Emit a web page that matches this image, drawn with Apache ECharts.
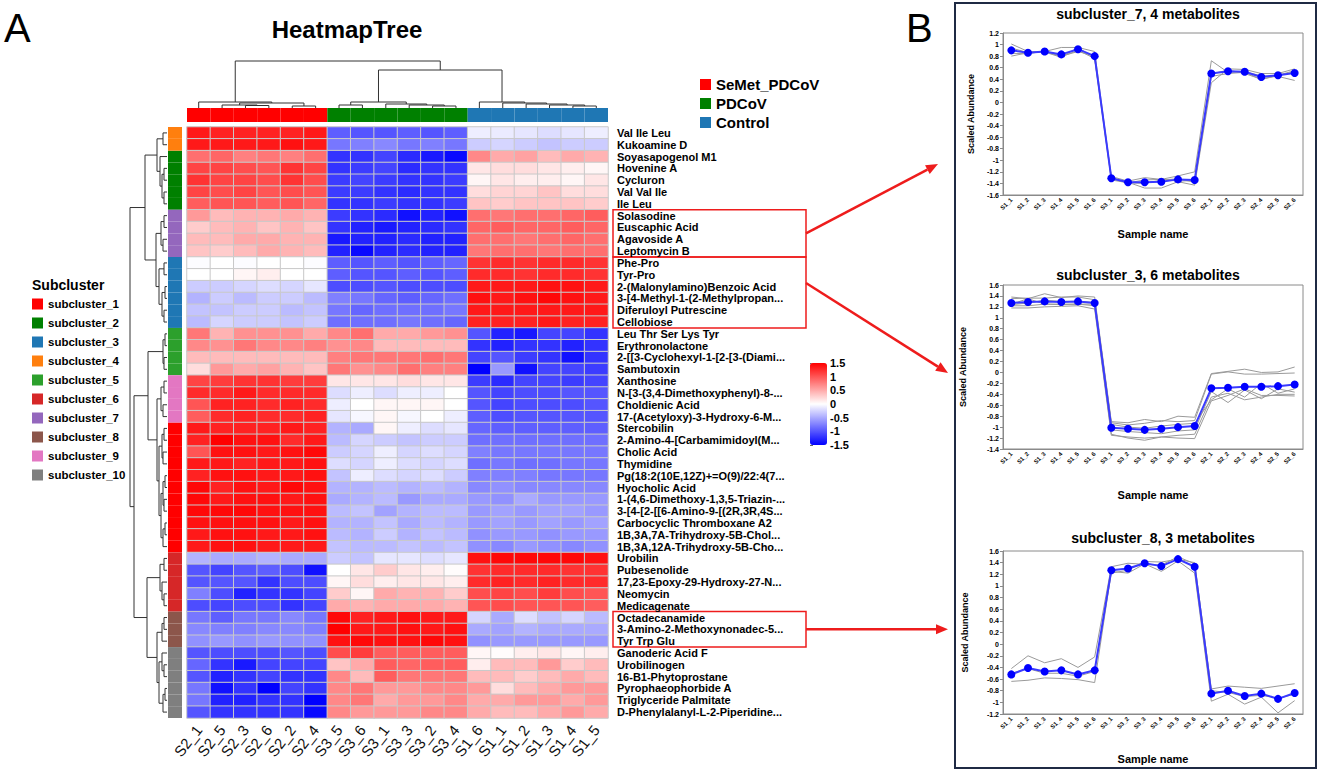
<!DOCTYPE html>
<html><head><meta charset="utf-8">
<script src="https://cdn.jsdelivr.net/npm/echarts@6/dist/echarts.min.js"></script>
<style>html,body{margin:0;padding:0;background:#fff}#c{width:1325px;height:772px}</style>
</head><body><div id="c"></div>
<script>
const FONT = '"Liberation Sans", Arial, Helvetica, sans-serif';

// ---------- heatmap data ----------
const columns = ['S2_1','S2_5','S2_3','S2_6','S2_2','S2_4','S3_5','S3_6','S3_1','S3_3','S3_2','S3_4','S1_6','S1_1','S1_2','S1_3','S1_4','S1_5'];
const groups = ['SeMet_PDCoV','PDCoV','Control'];
const groupColors = ['#ff0000','#008000','#1f77b4'];
const columnGroup = [0,0,0,0,0,0,1,1,1,1,1,1,2,2,2,2,2,2];

const rowNames = ['Val Ile Leu','Kukoamine D','Soyasapogenol M1','Hovenine A','Cycluron','Val Val Ile','Ile Leu',
 'Solasodine','Euscaphic Acid','Agavoside A','Leptomycin B',
 'Phe-Pro','Tyr-Pro','2-(Malonylamino)Benzoic Acid','3-[4-Methyl-1-(2-Methylpropan...','Diferuloyl Putrescine','Cellobiose',
 'Leu Thr Ser Lys Tyr','Erythronolactone','2-[[3-Cyclohexyl-1-[2-[3-(Diami...','Sambutoxin',
 'Xanthosine','N-[3-(3,4-Dimethoxyphenyl)-8-...','Choldienic Acid','17-(Acetyloxy)-3-Hydroxy-6-M...',
 'Stercobilin','2-Amino-4-[Carbamimidoyl(M...','Cholic Acid','Thymidine','Pg(18:2(10E,12Z)+=O(9)/22:4(7...','Hyocholic Acid',
 '1-(4,6-Dimethoxy-1,3,5-Triazin-...','3-[4-[2-[[6-Amino-9-[(2R,3R,4S...','Carbocyclic Thromboxane A2','1B,3A,7A-Trihydroxy-5B-Chol...','1B,3A,12A-Trihydroxy-5B-Cho...',
 'Urobilin','Pubesenolide','17,23-Epoxy-29-Hydroxy-27-N...','Neomycin','Medicagenate',
 'Octadecanamide','3-Amino-2-Methoxynonadec-5...','Tyr Trp Glu',
 'Ganoderic Acid F','Urobilinogen','16-B1-Phytoprostane','Pyrophaeophorbide A','Triglyceride Palmitate','D-Phenylalanyl-L-2-Piperidine...'];

const subclusterNames = ['subcluster_1','subcluster_2','subcluster_3','subcluster_4','subcluster_5','subcluster_6','subcluster_7','subcluster_8','subcluster_9','subcluster_10'];
const subclusterColors = ['#ff0000','#008000','#1f77b4','#ff7f0e','#2ca02c','#d62728','#9467bd','#8c564b','#e377c2','#7f7f7f'];
const rowSubcluster = [4,4,2,2,2,2,2,7,7,7,7,3,3,3,3,3,3,5,5,5,5,9,9,9,9,1,1,1,1,1,1,1,1,1,1,1,6,6,6,6,6,8,8,8,10,10,10,10,10,10];

const heatValues = [
 [1.35,1.3,1.3,1.3,1.3,1.35, -0.95,-1.0,-1.0,-0.95,-1.0,-0.95, -0.1,-0.12,-0.15,-0.2,-0.15,-0.1],
 [1.35,1.35,1.35,1.35,1.4,1.35, -0.8,-0.75,-0.7,-0.8,-0.75,-0.8, -0.3,-0.25,-0.3,-0.35,-0.3,-0.3],
 [0.85,0.9,0.75,0.8,0.75,0.85, -1.2,-1.2,-1.1,-1.25,-1.35,-1.45, 0.7,0.5,0.55,0.4,0.5,0.45],
 [1.1,1.1,1.05,1.0,1.2,1.1, -1.2,-1.15,-1.1,-1.25,-1.2,-1.2, 0.15,0.2,0.2,0.15,0.1,0.05],
 [1.2,1.1,1.1,1.05,1.2,1.05, -1.15,-1.1,-1.15,-1.2,-1.2,-1.15, 0.05,0.15,0.1,0.1,0.05,0.15],
 [1.1,1.05,1.1,1.0,1.05,1.0, -1.15,-1.15,-1.2,-1.25,-1.2,-1.2, 0.2,0.25,0.25,0.35,0.2,0.2],
 [0.95,1.0,1.0,0.95,1.0,0.9, -1.2,-1.2,-1.15,-1.2,-1.2,-1.15, 0.35,0.3,0.35,0.35,0.35,0.3],
 [0.6,0.4,0.45,0.45,0.5,0.45, -1.15,-1.2,-1.25,-1.4,-1.3,-1.4, 0.85,0.8,0.85,0.85,0.9,0.95],
 [0.3,0.4,0.45,0.35,0.45,0.35, -1.2,-1.3,-1.35,-1.3,-1.25,-1.2, 0.9,0.95,0.9,0.9,0.95,0.9],
 [0.4,0.4,0.5,0.5,0.45,0.45, -1.35,-1.3,-1.3,-1.25,-1.3,-1.3, 0.85,0.85,0.8,0.85,0.9,0.85],
 [0.35,0.3,0.4,0.5,0.45,0.4, -1.3,-1.45,-1.3,-1.25,-1.3,-1.3, 0.8,0.85,0.85,0.8,0.85,0.85],
 [-0.02,0.0,-0.02,0.0,0.0,-0.02, -0.95,-1.0,-0.95,-1.0,-0.95,-0.9, 1.2,1.25,1.2,1.25,1.25,1.2],
 [0.0,0.0,0.05,0.1,0.0,0.0, -0.95,-1.0,-1.0,-0.95,-1.0,-0.95, 1.25,1.25,1.2,1.25,1.25,1.2],
 [-0.3,-0.3,-0.25,-0.2,-0.25,-0.15, -1.05,-1.05,-1.0,-1.05,-1.05,-1.05, 1.35,1.35,1.35,1.4,1.4,1.35],
 [-0.45,-0.3,-0.4,-0.3,-0.3,-0.4, -0.75,-0.8,-0.9,-0.95,-0.9,-0.85, 1.4,1.35,1.4,1.45,1.4,1.35],
 [-0.35,-0.35,-0.3,-0.3,-0.4,-0.35, -0.8,-0.9,-0.85,-0.85,-0.85,-0.8, 1.35,1.35,1.35,1.35,1.35,1.35],
 [-0.4,-0.25,-0.3,-0.3,-0.35,-0.3, -0.85,-0.85,-0.85,-0.8,-0.85,-0.9, 1.3,1.3,1.3,1.35,1.3,1.3],
 [0.8,0.45,0.65,0.65,0.65,0.5, 0.7,0.85,0.5,0.5,0.6,0.65, -1.0,-1.3,-1.35,-1.1,-1.1,-1.2],
 [0.7,0.65,0.8,0.7,0.7,0.75, 0.65,0.7,0.4,0.4,0.4,0.4, -1.2,-1.3,-1.2,-1.2,-1.3,-1.2],
 [0.4,0.4,0.4,0.4,0.4,0.4, 0.75,0.8,0.8,0.8,0.85,0.8, -1.1,-1.0,-1.15,-1.2,-1.4,-1.2],
 [0.2,0.6,0.5,0.55,0.45,0.35, 0.8,0.65,0.7,0.85,0.75,0.75, -1.5,-0.6,-1.4,-1.1,-1.1,-1.15],
 [1.1,1.15,1.2,1.2,1.15,1.15, 0.15,0.15,0.15,0.2,0.15,0.15, -1.15,-1.25,-1.1,-1.1,-1.15,-1.1],
 [1.25,1.25,1.35,1.25,1.25,1.25, -0.2,-0.1,-0.2,-0.1,-0.1,0.0, -1.0,-1.1,-1.05,-1.05,-1.0,-1.0],
 [1.0,1.3,1.3,1.25,1.3,1.25, -0.1,0.0,0.05,0.05,0.05,0.0, -1.0,-1.1,-1.05,-1.05,-1.05,-1.0],
 [0.95,1.25,1.3,1.25,1.25,1.3, -0.15,-0.05,0.05,-0.05,0.0,-0.1, -0.95,-1.05,-1.0,-1.0,-1.0,-1.0],
 [1.35,1.3,1.3,1.3,1.35,1.3, -0.45,-0.5,0.05,-0.1,-0.2,-0.15, -0.9,-0.95,-0.95,-0.95,-0.95,-0.95],
 [1.3,1.5,1.4,1.4,1.25,1.35, -0.4,-0.25,-0.3,-0.35,-0.3,-0.3, -0.85,-0.85,-0.85,-0.85,-0.85,-0.85],
 [1.0,1.4,1.4,1.35,1.4,1.45, -0.3,-0.25,-0.1,-0.25,-0.2,-0.25, -0.75,-0.8,-0.8,-0.8,-0.8,-0.8],
 [1.35,1.35,1.3,1.35,1.35,1.4, -0.2,-0.25,-0.1,-0.2,-0.25,-0.2, -0.85,-0.8,-0.85,-0.85,-0.8,-0.8],
 [1.3,1.4,1.4,1.35,1.35,1.4, -0.35,-0.1,-0.2,-0.25,-0.2,-0.3, -0.75,-0.75,-0.75,-0.8,-0.8,-0.8],
 [1.45,1.3,1.4,1.35,1.45,1.4, -0.45,-0.45,-0.4,-0.45,-0.4,-0.45, -0.7,-0.65,-0.7,-0.7,-0.7,-0.7],
 [1.45,1.35,1.4,1.4,1.35,1.4, -0.5,-0.45,-0.4,-0.6,-0.5,-0.5, -0.6,-0.65,-0.5,-0.6,-0.6,-0.6],
 [1.45,1.45,1.45,1.4,1.4,1.4, -0.4,-0.35,-0.55,-0.45,-0.4,-0.4, -0.6,-0.55,-0.6,-0.55,-0.55,-0.6],
 [1.4,1.4,1.4,1.4,1.35,1.4, -0.45,-0.45,-0.35,-0.5,-0.4,-0.45, -0.6,-0.55,-0.6,-0.55,-0.6,-0.55],
 [1.35,1.4,1.4,1.35,1.35,1.4, -0.4,-0.45,-0.3,-0.45,-0.35,-0.4, -0.65,-0.6,-0.6,-0.65,-0.6,-0.6],
 [1.35,1.4,1.4,1.35,1.35,1.35, -0.35,-0.4,-0.4,-0.35,-0.4,-0.35, -0.65,-0.7,-0.6,-0.65,-0.7,-0.65],
 [-0.45,-0.5,-0.5,-0.45,-0.5,-0.5, -0.3,-0.35,-0.15,-0.15,-0.2,-0.15, 1.4,1.45,1.45,1.45,1.45,1.4],
 [-1.0,-1.1,-1.0,-0.95,-1.05,-1.4, 0.0,0.15,0.3,0.15,0.1,0.02, 1.2,1.25,1.25,1.25,1.2,1.2],
 [-1.0,-1.0,-1.0,-1.2,-1.05,-1.05, 0.05,0.2,0.1,0.15,0.15,0.1, 1.25,1.3,1.25,1.3,1.25,1.25],
 [-0.75,-1.05,-1.3,-1.2,-1.2,-1.1, 0.3,0.05,0.5,0.45,0.45,0.3, 1.05,1.1,1.05,1.15,1.05,1.0],
 [-1.05,-1.1,-1.05,-1.05,-1.2,-1.1, 0.5,0.45,0.5,0.5,0.5,0.45, 1.0,1.05,1.0,1.0,1.0,0.95],
 [-0.8,-0.95,-0.8,-0.8,-0.7,-0.8, 1.45,1.3,1.35,1.4,1.35,1.35, -0.25,-0.5,-0.2,-0.35,-0.25,-0.4],
 [-0.7,-0.75,-0.75,-0.7,-0.7,-0.75, 1.5,1.35,1.35,1.4,1.35,1.4, -0.5,-0.55,-0.45,-0.5,-0.5,-0.5],
 [-0.65,-0.6,-0.65,-0.6,-0.65,-0.65, 1.4,1.45,1.4,1.4,1.45,1.4, -0.65,-0.6,-0.6,-0.6,-0.6,-0.6],
 [-1.0,-1.05,-1.05,-1.05,-1.0,-1.05, 1.05,1.15,0.95,0.95,0.95,0.95, 0.05,0.02,0.1,0.15,0.05,0.1],
 [-0.9,-1.2,-1.35,-1.1,-1.1,-1.1, 0.35,0.5,0.95,0.9,0.95,0.95, 0.1,0.4,0.4,0.6,0.3,0.4],
 [-1.0,-1.3,-1.2,-1.1,-1.2,-1.2, 0.7,0.4,0.95,0.8,0.8,0.8, 0.4,0.4,0.3,0.4,0.5,0.4],
 [-0.8,-1.4,-1.2,-1.5,-1.1,-1.2, 0.7,0.8,0.6,0.6,0.7,0.7, 0.6,0.2,0.4,0.5,0.6,0.6],
 [-0.8,-1.3,-1.3,-1.2,-1.2,-1.55, 0.7,0.8,0.5,0.6,0.6,0.7, 0.5,0.5,0.6,0.6,0.5,0.6],
 [-1.0,-1.2,-1.2,-1.2,-1.2,-1.45, 0.7,0.6,0.6,0.6,0.7,0.7, 0.5,0.4,0.4,0.5,0.6,0.5]
];
const colorbarTicks = [-1.5, 1.5, 0.5];

// dendrograms: [height, left, right]; leaves are display indices
const rowTree = [37,
  [22,
    [10, [4, 0, 1], [7, 2, [5, [3, 3, 4], [3, 5, 6]]]],
    [11, [6, [3, 7, 8], [4, 9, 10]], [8, [3, 11, 12], [5, [2, 13, 14], [3, 15, 16]]]]
  ],
  [33,
    [19,
      [4, [2, 17, 18], [3, 19, 20]],
      [10, [6, [3, 21, 22], [4, 23, 24]],
           [8, [5, [3, 25, 26], [4, 27, 28]], [6, [4, [2, 29, 30], [3, 31, 32]], [4, [2, 33, 34], 35]]]]
    ],
    [20,
      [7, [3, 36, 37], [5, 38, [3, 39, 40]]],
      [10, [5, [3, 41, 42], 43], [8, [5, 44, [3, 45, 46]], [4, [2, 47, 48], 49]]]
    ]
  ]
];
const colTree = [47,
  [6, 0, [5, [3, 1, [2.5, 2, 3]], [2, 4, 5]]],
  [38,
    [6, [3, 6, 7], [4, 8, [3, 9, [2, 10, 11]]]],
    [6, 12, [5, 13, [4, 14, [3, 15, [2, 16, 17]]]]]
  ]
];

// ---------- line chart data ----------
const sampleNames = ['S1_1','S1_2','S1_3','S1_4','S1_5','S1_6','S3_1','S3_2','S3_3','S3_4','S3_5','S3_6','S2_1','S2_2','S2_3','S2_4','S2_5','S2_6'];

const sub7Title = 'subcluster_7, 4 metabolites';
const sub7Mean = [0.9,0.86,0.88,0.83,0.92,0.8, -1.31,-1.38,-1.38,-1.37,-1.33,-1.34, 0.5,0.54,0.53,0.44,0.47,0.51];
const sub7Lines = [
 [1.01,0.88,0.87,0.78,0.95,0.76, -1.28,-1.36,-1.30,-1.33,-1.27,-1.20, 0.72,0.52,0.53,0.46,0.45,0.38],
 [0.80,0.86,0.88,0.95,0.95,0.88, -1.30,-1.38,-1.48,-1.48,-1.37,-1.43, 0.34,0.58,0.57,0.50,0.50,0.58],
 [0.85,0.84,0.89,0.80,0.88,0.80, -1.32,-1.39,-1.40,-1.34,-1.32,-1.38, 0.45,0.50,0.52,0.40,0.47,0.55],
 [0.94,0.86,0.88,0.79,0.90,0.76, -1.34,-1.39,-1.34,-1.33,-1.36,-1.35, 0.49,0.56,0.50,0.40,0.46,0.53]
];
const sub3Title = 'subcluster_3, 6 metabolites';
const sub3Mean = [1.27,1.29,1.30,1.29,1.30,1.27, -1.01,-1.03,-1.05,-1.03,-1.00,-0.98, -0.29,-0.28,-0.26,-0.26,-0.25,-0.22];
const sub3Lines = [
 [1.38,1.35,1.44,1.37,1.40,1.38, -0.90,-0.92,-0.86,-0.90,-0.80,-0.82, -0.02,0.02,0.06,0.0,0.01,0.10],
 [1.35,1.36,1.36,1.38,1.38,1.33, -0.92,-0.96,-0.93,-0.88,-0.90,-0.88, -0.03,0.01,-0.03,-0.03,-0.02,-0.01],
 [1.24,1.27,1.32,1.30,1.30,1.28, -0.95,-1.00,-1.02,-0.98,-0.95,-0.93, -0.50,-0.30,-0.45,-0.20,-0.38,-0.30],
 [1.22,1.22,1.25,1.24,1.25,1.22, -1.05,-1.08,-1.10,-1.12,-1.07,-1.05, -0.35,-0.55,-0.32,-0.48,-0.30,-0.36],
 [1.18,1.18,1.20,1.21,1.22,1.16, -1.15,-1.18,-1.20,-1.18,-1.15,-1.13, -0.45,-0.38,-0.50,-0.45,-0.40,-0.40],
 [1.25,1.35,1.25,1.25,1.25,1.25, -1.13,-1.20,-1.24,-1.18,-1.20,-1.21, -0.52,-0.42,-0.30,-0.42,-0.42,-0.43]
];
const sub8Title = 'subcluster_8, 3 metabolites';
const sub8Mean = [-0.52,-0.41,-0.47,-0.45,-0.52,-0.45, 1.27,1.30,1.39,1.34,1.46,1.33, -0.85,-0.80,-0.89,-0.85,-0.94,-0.84];
const sub8Lines = [
 [-0.42,-0.20,-0.32,-0.25,-0.40,-0.22, 1.33,1.39,1.37,1.36,1.50,1.38, -0.77,-0.72,-0.74,-0.76,-0.72,-0.68],
 [-0.50,-0.42,-0.50,-0.50,-0.55,-0.47, 1.22,1.27,1.42,1.41,1.46,1.40, -0.80,-0.83,-0.90,-0.88,-0.93,-0.86],
 [-0.64,-0.62,-0.58,-0.59,-0.61,-0.66, 1.25,1.22,1.38,1.25,1.43,1.22, -0.98,-0.86,-1.03,-0.91,-1.18,-0.97]
];
const lineYRanges = [[-1.6, 1.2], [-1.4, 1.6], [-1.2, 1.6]];

// ---------- build ----------
function dendroSegments(tree, swap) {
  const segs = [];
  function walk(n) {
    if (typeof n === 'number') return {p: n, h: 0};
    const a = walk(n[1]), b = walk(n[2]), h = n[0];
    const pts = [[a.p, a.h], [a.p, h], [b.p, h], [b.p, b.h]];
    segs.push({coords: swap ? pts.map(q => [q[1], q[0]]) : pts});
    return {p: (a.p + b.p) / 2, h: h};
  }
  walk(tree);
  return segs;
}

const heatData = [];
heatValues.forEach((row, r) => row.forEach((v, c) => heatData.push([c, r, v])));

const chart = echarts.init(document.getElementById('c'), null, {renderer: 'svg'});

const hid = (o) => Object.assign({show: false}, o);
const grids = [
  {left: 187, top: 127, width: 421, height: 591},   // 0 heatmap
  {left: 128, top: 127, width: 39, height: 591},    // 1 row dendrogram
  {left: 187, top: 58, width: 421, height: 50},     // 2 col dendrogram
  {left: 187, top: 108, width: 421, height: 14},    // 3 group bar
  {left: 168, top: 127, width: 14, height: 591},    // 4 subcluster bar
  {left: 810, top: 363, width: 17, height: 82},     // 5 colorbar axis
  {left: 1003, top: 33, width: 300, height: 162, show: true, borderColor: '#8a8a8a', borderWidth: 1},
  {left: 1003, top: 285, width: 300, height: 164, show: true, borderColor: '#8a8a8a', borderWidth: 1},
  {left: 1003, top: 551, width: 300, height: 163, show: true, borderColor: '#8a8a8a', borderWidth: 1}
];

const xAxes = [
  {gridIndex: 0, type: 'category', data: columns, position: 'bottom', axisLine: {show: false}, axisTick: {show: false},
   axisLabel: {interval: 0, rotate: 52, fontSize: 15, fontFamily: FONT, color: '#111', margin: 9}},
  hid({gridIndex: 1, type: 'value', min: 0, max: 39, inverse: true}),
  hid({gridIndex: 2, type: 'value', min: -0.5, max: 17.5}),
  hid({gridIndex: 3, type: 'category', data: columns}),
  hid({gridIndex: 4, type: 'value', min: 0, max: 1}),
  hid({gridIndex: 5, type: 'value', min: 0, max: 1})
];
const yAxes = [
  {gridIndex: 0, type: 'category', data: rowNames, inverse: true, position: 'right', axisLine: {show: false}, axisTick: {show: false},
   axisLabel: {interval: 0, fontSize: 11, fontWeight: 'bold', fontFamily: FONT, color: '#000', margin: 9}},
  hid({gridIndex: 1, type: 'value', min: -0.5, max: 49.5, inverse: true}),
  hid({gridIndex: 2, type: 'value', min: 0, max: 50}),
  hid({gridIndex: 3, type: 'value', min: 0, max: 1}),
  hid({gridIndex: 4, type: 'category', data: rowNames, inverse: true}),
  {gridIndex: 5, type: 'value', min: colorbarTicks[0], max: colorbarTicks[1], interval: colorbarTicks[2], position: 'right',
   axisLine: {show: false}, axisTick: {show: true, length: 3, lineStyle: {color: '#666'}}, splitLine: {show: false},
   axisLabel: {fontSize: 11, fontWeight: 'bold', fontFamily: FONT, color: '#000', margin: 3}}
];

const lineSets = [
  {title: sub7Title, mean: sub7Mean, lines: sub7Lines},
  {title: sub3Title, mean: sub3Mean, lines: sub3Lines},
  {title: sub8Title, mean: sub8Mean, lines: sub8Lines}
];
const xNameGaps = [33, 40, 39], yNameGaps = [28, 36, 34];
lineSets.forEach((s, i) => {
  const g = 6 + i;
  xAxes.push({gridIndex: g, type: 'category', data: sampleNames, boundaryGap: true,
    name: 'Sample name', nameLocation: 'middle', nameGap: xNameGaps[i],
    nameTextStyle: {fontSize: 11, fontWeight: 'bold', fontFamily: FONT, color: '#000'},
    axisLine: {onZero: false, lineStyle: {color: '#8a8a8a'}}, axisTick: {alignWithLabel: true, length: 3, lineStyle: {color: '#8a8a8a'}},
    axisLabel: {interval: 0, rotate: 45, fontSize: 6, fontWeight: 'bold', fontFamily: FONT, color: '#000', margin: 4}});
  yAxes.push({gridIndex: g, type: 'value', min: lineYRanges[i][0], max: lineYRanges[i][1], interval: 0.2,
    name: 'Scaled Abundance', nameLocation: 'middle', nameGap: yNameGaps[i],
    nameTextStyle: {fontSize: 9, fontWeight: 'bold', fontFamily: FONT, color: '#000'},
    axisLine: {show: true, onZero: false, lineStyle: {color: '#8a8a8a'}}, axisTick: {show: true, length: 3, lineStyle: {color: '#8a8a8a'}},
    splitLine: {show: false},
    axisLabel: {fontSize: 7, fontWeight: 'bold', fontFamily: FONT, color: '#000', margin: 4,
      formatter: v => String(Math.round(v * 10) / 10)}});
});

const series = [
  {type: 'heatmap', name: 'heat', xAxisIndex: 0, yAxisIndex: 0, data: heatData, silent: true,
   itemStyle: {borderColor: '#c9c9c9', borderWidth: 1}, emphasis: {disabled: true}, animation: false},
  {type: 'lines', coordinateSystem: 'cartesian2d', xAxisIndex: 1, yAxisIndex: 1, polyline: true, silent: true,
   data: dendroSegments(rowTree, true), lineStyle: {color: '#333', width: 1, opacity: 1}, animation: false},
  {type: 'lines', coordinateSystem: 'cartesian2d', xAxisIndex: 2, yAxisIndex: 2, polyline: true, silent: true,
   data: dendroSegments(colTree, false), lineStyle: {color: '#333', width: 1, opacity: 1}, animation: false}
];
groups.forEach((g, gi) => {
  series.push({type: 'bar', name: g, xAxisIndex: 3, yAxisIndex: 3, stack: 'grp', barWidth: '100%', silent: true,
    itemStyle: {color: groupColors[gi]}, animation: false,
    data: columnGroup.map(v => v === gi ? 1 : '-')});
});
subclusterNames.forEach((n, si) => {
  series.push({type: 'bar', name: n, xAxisIndex: 4, yAxisIndex: 4, stack: 'sub', barWidth: '100%', silent: true,
    itemStyle: {color: subclusterColors[si]}, animation: false,
    data: rowSubcluster.map(v => v === si + 1 ? 1 : '-')});
});
series.push({type: 'scatter', xAxisIndex: 5, yAxisIndex: 5, data: [], silent: true});
lineSets.forEach((s, i) => {
  const ai = 6 + i;
  s.lines.forEach((l, k) => series.push({type: 'line', name: 'metabolite ' + (k + 1), xAxisIndex: ai, yAxisIndex: ai,
    data: l, symbol: 'none', silent: true, lineStyle: {color: '#9a9a9a', width: 1}, animation: false}));
  series.push({type: 'line', name: 'mean', xAxisIndex: ai, yAxisIndex: ai, data: s.mean, symbol: 'circle', symbolSize: 8,
    silent: true, itemStyle: {color: '#0000ff'}, lineStyle: {color: '#3a3aff', width: 2}, animation: false});
});

const txt = (text, x, y, size, weight, align) => ({type: 'text', silent: true,
  style: {text, x, y, fontSize: size, fontWeight: weight, fontFamily: FONT, fill: '#000',
    textAlign: align || 'left', align: align || 'left', textVerticalAlign: 'middle', verticalAlign: 'middle'}});

const baseGraphics = [
  txt('A', 4, 28, 40, 'normal'),
  txt('B', 906, 28, 40, 'normal'),
  txt('HeatmapTree', 347, 29, 24, 'bold', 'center'),
  txt('Subcluster', 32, 285, 14, 'bold'),
  txt(sub7Title, 1148, 14, 14, 'bold', 'center'),
  txt(sub3Title, 1148, 275, 14, 'bold', 'center'),
  txt(sub8Title, 1163, 538, 14, 'bold', 'center'),
  {type: 'rect', silent: true, shape: {x: 955, y: 3, width: 361, height: 765}, style: {fill: 'none', stroke: '#1f2a44', lineWidth: 2}}
];

chart.setOption({
  backgroundColor: '#fff',
  animation: false,
  grid: grids, xAxis: xAxes, yAxis: yAxes, series,
  visualMap: {type: 'continuous', seriesIndex: 0, min: -1.5, max: 1.5, calculable: false, hoverLink: false,
    left: 810, top: 363, itemWidth: 17, itemHeight: 82, padding: 0, text: null, showLabel: false,
    inRange: {color: ['#0000ff', '#ffffff', '#ff0000']}},
  legend: [
    {data: groups, orient: 'vertical', left: 700, top: 77, padding: 0, itemWidth: 11, itemHeight: 11, itemGap: 4, icon: 'rect',
     selectedMode: false, textStyle: {fontSize: 15, fontWeight: 'bold', fontFamily: FONT, color: '#000'}},
    {data: subclusterNames, orient: 'vertical', left: 32, top: 297, padding: 0, itemWidth: 11, itemHeight: 11, itemGap: 5, icon: 'rect',
     selectedMode: false, textStyle: {fontSize: 11.5, fontWeight: 'bold', fontFamily: FONT, color: '#000', lineHeight: 14}}
  ],
  graphic: baseGraphics
});

// annotation boxes and arrows, positioned from the heatmap's own row scale
const rowY = name => chart.convertToPixel({yAxisIndex: 0}, name);
const half = 591 / 50 / 2;
function box(first, last) {
  const y0 = rowY(rowNames[first]) - half, y1 = rowY(rowNames[last]) + half;
  return {type: 'rect', silent: true, shape: {x: 613, y: y0, width: 193, height: y1 - y0},
    style: {fill: 'none', stroke: '#ee1c1c', lineWidth: 1.5}};
}
function arrow(x1, y1, x2, y2) {
  const dx = x2 - x1, dy = y2 - y1, L = Math.hypot(dx, dy), ux = dx / L, uy = dy / L;
  const hl = 12, hw = 5, bx = x2 - ux * hl, by = y2 - uy * hl;
  return [
    {type: 'line', silent: true, shape: {x1, y1, x2: bx, y2: by}, style: {stroke: '#ee1c1c', lineWidth: 2.5}},
    {type: 'polygon', silent: true, shape: {points: [[x2, y2], [bx - uy * hw, by + ux * hw], [bx + uy * hw, by - ux * hw]]},
     style: {fill: '#ee1c1c'}}
  ];
}
const b1 = box(7, 10), b2 = box(11, 16), b3 = box(41, 43);
const extra = [b1, b2, b3]
  .concat(arrow(806, (b1.shape.y + b1.shape.y + b1.shape.height) / 2, 938, 164))
  .concat(arrow(806, b2.shape.y + 26, 948, 373))
  .concat(arrow(806, b3.shape.y + b3.shape.height / 2, 948, b3.shape.y + b3.shape.height / 2));
chart.setOption({graphic: baseGraphics.concat(extra)});
</script></body></html>
